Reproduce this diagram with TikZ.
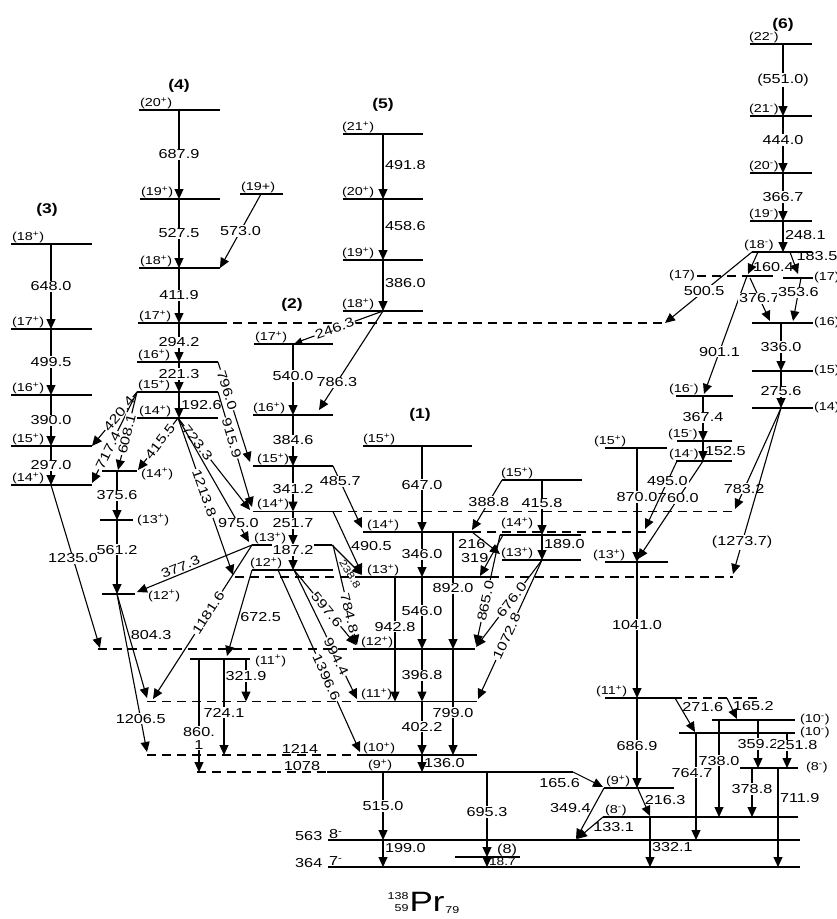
\documentclass[tikz,border=0pt]{standalone}
\usepackage{fontspec}
\setmainfont{Liberation Sans}[FakeStretch=1.25]
\usetikzlibrary{arrows.meta}
\newcommand{\spp}{\textsuperscript{+}}
\newcommand{\spm}{\textsuperscript{-}}
\tikzset{
  lev/.style={line width=1.1pt},
  levdash/.style={line width=1.1pt, dash pattern=on 9pt off 6pt},
  gam/.style={-{Triangle[width=9pt,length=10pt]}, line width=1.1pt},
  gams/.style={-{Triangle[width=6pt,length=7pt]}, line width=1.1pt},
  en/.style={font=\fontsize{13}{13}\selectfont, fill=white, inner sep=1pt},
  enr/.style={font=\fontsize{13}{13}\selectfont, inner sep=1.5pt},
  sp/.style={font=\fontsize{11.5}{11.5}\selectfont, inner sep=1pt, anchor=south west},
  spr/.style={font=\fontsize{11.5}{11.5}\selectfont, inner sep=1pt, anchor=west},
  bandlab/.style={font=\fontsize{14}{14}\selectfont\bfseries}
}
\begin{document}
\begin{tikzpicture}[x=1pt,y=-1pt]
\useasboundingbox (0,0) rectangle (837,919);

% band (3)
\node[bandlab] (b3) at (47,210) {(3)};
\draw[lev] (11,244) -- (92,244);
\draw[lev] (11,329) -- (92,329);
\draw[lev] (11,395) -- (92,395);
\draw[lev] (11,446) -- (92,446);
\draw[lev] (11,485) -- (92,485);
\node[sp] (s3a) at (11,244) {(18\spp)};
\node[sp] (s3b) at (11,329) {(17\spp)};
\node[sp] (s3c) at (11,395) {(16\spp)};
\node[sp] (s3d) at (11,446) {(15\spp)};
\node[sp] (s3e) at (11,485) {(14\spp)};
\draw[gam] (51,244) -- node[en] (g6480) {648.0} (51,329);
\draw[gam] (51,329) -- node[en] (g4995) {499.5} (51,395);
\draw[gam] (51,395) -- node[en] (g3900) {390.0} (51,446);
\draw[gam] (51,446) -- node[en] (g2970) {297.0} (51,485);
\draw[gam] (51,485) -- node[en, pos=.45] (g12350) {1235.0} (100,648);

% band (4)
\node[bandlab] (b4) at (179,86) {(4)};
\draw[lev] (139,110) -- (220,110);
\draw[lev] (140,199) -- (220,199);
\draw[lev] (139,268) -- (220,268);
\draw[lev] (138,323) -- (218,323);
\draw[levdash] (218,323) -- (662,323);
\draw[lev] (137,362) -- (218,362);
\draw[lev] (137,392) -- (218,392);
\draw[lev] (137,418) -- (218,418);
\draw[lev] (240,194) -- (283,194);
\node[sp] (s4a) at (139,110) {(20\spp)};
\node[sp] (s4b) at (140,199) {(19\spp)};
\node[sp] (s4c) at (139,268) {(18\spp)};
\node[sp] (s4d) at (138,323) {(17\spp)};
\node[sp] (s4e) at (137,362) {(16\spp)};
\node[sp] (s4f) at (137,392) {(15\spp)};
\node[sp] (s4g) at (138,418) {(14\spp)};
\node[sp] (s4h) at (240,194) {(19+)};
\draw[gam] (179,110) -- node[en] (g6879) {687.9} (179,199);
\draw[gam] (179,199) -- node[en] (g5275) {527.5} (179,268);
\draw[gam] (261,194) -- node[en] (g5730) {573.0} (220,268);
\draw[gam] (179,268) -- node[en] (g4119) {411.9} (179,323);
\draw[gam] (179,323) -- node[en] (g2942) {294.2} (179,362);
\draw[gam] (179,362) -- node[en, pos=.4] (g2213) {221.3} (179,392);
\draw[gam] (179,392) -- node[enr, right] (g1926) {192.6} (179,418);
\draw[gam] (218,362) -- node[en, sloped, pos=.28] (g7960) {796.0} (250,462);
\draw[gam] (218,392) -- node[en, sloped, pos=.4] (g9159) {915.9} (252,507);
\draw[gam] (137,392) -- node[en, sloped, pos=.4] (g4204) {420.4} (92,446);
\draw[gam] (137,392) -- node[en, sloped, pos=.64] (g7174) {717.4} (92,483);
\draw[gam] (137,392) -- node[en, sloped, pos=.54] (g6081) {608.1} (118,470);
\draw[gam] (178,418) -- node[en, sloped, pos=.45] (g4155) {415.5} (138,470);
\draw[gam] (178,418) -- node[en, sloped, pos=.27] (g7233) {723.3} (250,510);
\draw[gam] (178,418) -- node[en, pos=.85] (g9750) {975.0} (249,542);
\draw[gam] (178,418) -- node[en, sloped, pos=.48] (g12138) {1213.8} (233,575);

% side band under (4)
\draw[lev] (102,471) -- (137,471);
\draw[lev] (100,520) -- (133,520);
\draw[lev] (102,594) -- (135,594);
\node[spr] (s7a) at (140,474) {(14\spp)};
\node[spr] (s7b) at (136,520) {(13\spp)};
\node[spr] (s7c) at (147,596) {(12\spp)};
\draw[gam] (117,471) -- node[en] (g3756) {375.6} (117,520);
\draw[gam] (117,520) -- node[en, pos=.4] (g5612) {561.2} (117,594);
\draw[gam] (117,594) -- node[enr, right, pos=.39] (g8043) {804.3} (147,698);
\draw[gam] (117,594) -- node[en, pos=.79] (g12065) {1206.5} (147,752);

% band (5)
\node[bandlab] (b5) at (383,105) {(5)};
\draw[lev] (343,134) -- (423,134);
\draw[lev] (343,199) -- (423,199);
\draw[lev] (343,260) -- (423,260);
\draw[lev] (343,311) -- (423,311);
\node[sp] (s5a) at (341,134) {(21\spp)};
\node[sp] (s5b) at (341,199) {(20\spp)};
\node[sp] (s5c) at (341,260) {(19\spp)};
\node[sp] (s5d) at (341,311) {(18\spp)};
\draw[gam] (383,134) -- node[enr, right, pos=.48] (g4918) {491.8} (383,199);
\draw[gam] (383,199) -- node[enr, right, pos=.45] (g4586) {458.6} (383,260);
\draw[gam] (383,260) -- node[enr, right, pos=.45] (g3860) {386.0} (383,311);
\draw[gams] (383,311) -- node[en, sloped, pos=.55] (g2463) {246.3} (295,343);
\draw[gam] (383,311) -- node[en, pos=.72] (g7863) {786.3} (319,410);

% band (2)
\node[bandlab] (b2) at (292,305) {(2)};
\draw[lev] (254,344) -- (333,344);
\draw[lev] (253,415) -- (333,415);
\draw[lev] (253,466) -- (333,466);
\draw[lev] (253,511.5) -- (333,511.5);
\draw[levdash] (333,511.5) -- (737,511.5);
\draw[lev] (252,545) -- (332,545);
\draw[lev] (252,570) -- (333,570);
\node[sp] (s2a) at (254,344) {(17\spp)};
\node[sp] (s2b) at (252,415) {(16\spp)};
\node[sp] (s2c) at (256,466) {(15\spp)};
\node[sp] (s2d) at (256,511.5) {(14\spp)};
\node[sp] (s2e) at (253,545) {(13\spp)};
\node[sp] (s2f) at (249,570) {(12\spp)};
\draw[gam] (293,344) -- node[en, pos=.45] (g5400) {540.0} (293,415);
\draw[gam] (293,415) -- node[en] (g3846) {384.6} (293,466);
\draw[gam] (293,466) -- node[en] (g3412) {341.2} (293,511.5);
\draw[gam] (293,511.5) -- node[en, pos=.35] (g2517) {251.7} (293,545);
\draw[gam] (293,545) -- node[en, pos=.2] (g1872) {187.2} (293,570);
\draw[gam] (333,466) -- node[en, pos=.25] (g4857) {485.7} (362,528);
\draw[gam] (333,511.5) -- node[enr, right, pos=.55] (g4905) {490.5} (362,574);
\draw[gam] (332,545) -- (362,575);
\node[font=\fontsize{10}{10}\selectfont, rotate=-58, inner sep=0.5pt] (g2388) at (350,574) {238.8};
\draw[gam] (333,545) -- node[en, sloped, pos=.68] (g7848) {784.8} (357,645);
\draw[gam] (294,570) -- node[en, sloped, pos=.53] (g5976) {597.6} (356,645);
\draw[gam] (294,570) -- node[en, sloped, pos=.67] (g9944) {994.4} (357,699);
\draw[gam] (278,570) -- node[en, sloped, pos=.59] (g13966) {1396.6} (360,752);
\draw[gam] (252,570) -- node[enr, right, pos=.55] (g6725) {672.5} (227,656);
\draw[gam] (252,545) -- node[enr, sloped, above, pos=.6] (g3773) {377.3} (137,592);
\draw[gam] (252,545) -- node[en, sloped, pos=.44] (g11816) {1181.6} (153,699);

% (11+) level between (2) and (1)
\draw[lev] (190,659) -- (250,659);
\node[spr] (s8a) at (254,661) {(11\spp)};
\draw[gam] (246,659) -- node[en, pos=.4] (g3219) {321.9} (246,701.5);
\draw[gam] (224,659) -- node[en, pos=.56] (g7241) {724.1} (224,755);
\draw[gam] (199,659) -- node[en, pos=.7, align=center] (g8601) {860.\\1} (199,772);

% band (1)
\node[bandlab] (b1) at (420,415) {(1)};
\draw[lev] (363,446) -- (472,446);
\draw[lev] (363,532) -- (472,532);
\draw[levdash] (472,532) -- (648,532);
\draw[levdash] (235,577) -- (363,577);
\draw[lev] (363,577) -- (490,577);
\draw[levdash] (490,577) -- (733,577);
\draw[levdash] (98,649) -- (356,649);
\draw[lev] (356,649) -- (475,649);
\draw[levdash] (147,701.5) -- (362,701.5);
\draw[lev] (362,701.5) -- (477,701.5);
\draw[levdash] (147,755) -- (362,755);
\draw[lev] (362,755) -- (477,755);
\draw[levdash] (197,772) -- (327,772);
\draw[lev] (327,772) -- (573,772);
\node[sp] (s1a) at (362,446) {(15\spp)};
\node[sp] (s1b) at (366,532) {(14\spp)};
\node[sp] (s1c) at (366,577) {(13\spp)};
\node[sp] (s1d) at (360,649) {(12\spp)};
\node[sp] (s1e) at (360,701.5) {(11\spp)};
\node[sp] (s1f) at (362,755) {(10\spp)};
\node[sp] (s1g) at (367,772) {(9\spp)};
\node[enr, anchor=south] (e1214) at (300,755) {1214};
\node[enr, anchor=south] (e1078) at (302,772) {1078};
\draw[gam] (422,446) -- node[en, pos=.45] (g6470) {647.0} (422,532);
\draw[gam] (422,532) -- node[en] (g3460) {346.0} (422,577);
\draw[gam] (422,577) -- node[en, pos=.47] (g5460) {546.0} (422,649);
\draw[gam] (422,649) -- node[en] (g3968) {396.8} (422,701.5);
\draw[gam] (422,701.5) -- node[en, pos=.47] (g4022) {402.2} (422,755);
\draw[gam] (422,755) -- node[enr, right] (g1360) {136.0} (422,772);
\draw[gam] (395,577) -- node[en, pos=.4] (g9428) {942.8} (395,701.5);
\draw[gam] (453,532) -- node[en, pos=.48] (g8920) {892.0} (453,649);
\draw[gam] (453,649) -- node[en, pos=.6] (g7990) {799.0} (453,755);

% band right of (1)
\draw[lev] (502,480) -- (582,480);
\draw[lev] (500,535) -- (581,535);
\draw[lev] (502,560) -- (581,560);
\node[sp] (s9a) at (500,480) {(15\spp)};
\node[sp] (s9b) at (500,530) {(14\spp)};
\node[sp] (s9c) at (500,560) {(13\spp)};
\draw[gam] (502,480) -- node[en, pos=.44] (g3888) {388.8} (472,530);
\draw[gam] (542,480) -- node[en, pos=.42] (g4158) {415.8} (542,535);
\draw[gam] (542,535) -- node[enr, right, pos=.35] (g1890) {189.0} (542,560);
\draw[gam] (472,532) -- node[enr, left, pos=.55] (g2160) {216} (500,554);
\draw[gam] (503,535) -- node[enr, left, pos=.55] (g3190) {319} (480,576);
\draw[gam] (500,535) -- node[en, sloped, pos=.6] (g8650) {865.0} (476,645);
\draw[gam] (542,560) -- node[en, sloped, pos=.46] (g6760) {676.0} (476,647);
\draw[gam] (542,560) -- node[en, sloped, pos=.55] (g10728) {1072.8} (478,699);

% low-lying levels
\draw[lev] (328,840) -- (800,840);
\draw[lev] (328,867) -- (800,867);
\draw[lev] (455,857) -- (520,857);
\node[enr, anchor=east] (e563) at (324,836) {563};
\node[enr, anchor=east] (e364) at (324,863) {364};
\node[sp, font=\fontsize{13}{13}\selectfont] (s0a) at (328,840) {8\spm};
\node[sp, font=\fontsize{13}{13}\selectfont] (s0b) at (328,867) {7\spm};
\node[sp, font=\fontsize{13}{13}\selectfont] (s0c) at (496,857) {(8)};
\draw[gam] (383,772) -- node[en] (g5150) {515.0} (383,840);
\draw[gam] (383,840) -- node[enr, right, pos=.3] (g1990) {199.0} (383,867);
\draw[gam] (487,772) -- node[en, pos=.47] (g6953) {695.3} (487,857);
\draw[gam] (487,857) -- node[enr, right, font=\fontsize{11}{11}\selectfont, pos=.5] (g187) {18.7} (487,867);

% band under (13+) at right
\draw[lev] (605,448) -- (667,448);
\draw[lev] (605,562) -- (668,562);
\draw[lev] (605,698) -- (673,698);
\draw[levdash] (673,698) -- (762,698);
\draw[lev] (604,788) -- (674,788);
\draw[lev] (603,817) -- (798,817);
\node[sp] (sca) at (593,448) {(15\spp)};
\node[sp] (scb) at (592,562) {(13\spp)};
\node[sp] (scc) at (595,698) {(11\spp)};
\node[sp] (scd) at (605,788) {(9\spp)};
\node[sp] (sce) at (604,817) {(8\spm)};
\draw[gam] (637,448) -- node[en, pos=.43] (g8700) {870.0} (637,562);
\draw[gam] (637,562) -- node[en, pos=.46] (g10410) {1041.0} (637,698);
\draw[gam] (637,698) -- node[en, pos=.53] (g6869) {686.9} (637,788);
\draw[gam] (573,772) -- node[enr, anchor=north east, pos=.3] (g1656) {165.6} (603,787);
\draw[gam] (604,788) -- node[enr, left, pos=.4] (g3494) {349.4} (576,839);
\draw[gam] (638,789) -- node[enr, right, pos=.4] (g2163) {216.3} (650,816);
\draw[gam] (650,817) -- node[enr, right, pos=.6] (g3321) {332.1} (650,867);
\draw[gam] (603,817) -- node[enr, anchor=west, pos=.45] (g1331) {133.1} (577,839);

% negative parity levels at bottom right
\draw[lev] (740,768) -- (798,768);
\draw[lev] (712,720) -- (795,720);
\draw[lev] (679,733) -- (795,733);
\node[spr] (sra) at (805,768) {(8\spm)};
\node[spr] (srb) at (799,720) {(10\spm)};
\node[spr] (src) at (799,733) {(10\spm)};
\draw[gam] (675,698) -- node[enr, right, pos=.27] (g2716) {271.6} (695,732);
\draw[gam] (727,698) -- node[enr, right, pos=.4] (g1652) {165.2} (737,719);
\draw[gam] (758,720) -- node[en] (g3592) {359.2} (758,768);
\draw[gam] (787,733) -- node[en, pos=.35, xshift=10pt] (g2518) {251.8} (787,768);
\draw[gam] (719,720) -- node[en, pos=.42] (g7380) {738.0} (719,817);
\draw[gam] (696,733) -- node[en, pos=.37, xshift=-4pt] (g7647) {764.7} (696,840);
\draw[gam] (752,768) -- node[en, pos=.43] (g3788) {378.8} (752,817);
\draw[gam] (778,768) -- node[enr, right, pos=.3] (g7119) {711.9} (778,867);

% band (6)
\node[bandlab] (b6) at (783,25) {(6)};
\draw[lev] (750,44) -- (812,44);
\draw[lev] (750,116) -- (812,116);
\draw[lev] (750,173) -- (812,173);
\draw[lev] (750,221) -- (812,221);
\draw[lev] (752,252) -- (812,252);
\draw[levdash] (697,276) -- (747,276);
\draw[lev] (747,276) -- (773,276);
\draw[lev] (783,278) -- (813,278);
\draw[lev] (752,323) -- (813,323);
\draw[lev] (752,371) -- (813,371);
\draw[lev] (752,408) -- (813,408);
\draw[lev] (676,396) -- (733,396);
\draw[lev] (677,441) -- (732,441);
\draw[lev] (676,461) -- (732,461);
\node[sp] (s6a) at (748,44) {(22\spm)};
\node[sp] (s6b) at (748,116) {(21\spm)};
\node[sp] (s6c) at (748,173) {(20\spm)};
\node[sp] (s6d) at (748,221) {(19\spm)};
\node[sp] (s6e) at (743,252) {(18\spm)};
\node[sp, anchor=east] (s6f) at (696,276) {(17)};
\node[spr] (s6g) at (813,278) {(17)};
\node[spr] (s6h) at (813,323) {(16)};
\node[spr] (s6i) at (813,371) {(15)};
\node[spr] (s6j) at (813,408) {(14)};
\node[sp] (s6k) at (668,396) {(16\spm)};
\node[sp] (s6l) at (667,441) {(15\spm)};
\node[sp] (s6m) at (668,461) {(14\spm)};
\draw[gam] (783,44) -- node[en] (g5510) {(551.0)} (783,116);
\draw[gam] (783,116) -- node[en, pos=.42] (g4440) {444.0} (783,173);
\draw[gam] (783,173) -- node[en] (g3667) {366.7} (783,221);
\draw[gam] (783,221) -- node[enr, right, pos=.45] (g2481) {248.1} (783,252);
\draw[gam] (758,252) -- node[enr, right, pos=.7] (g1604) {160.4} (748,274);
\draw[gam] (790,252) -- node[enr, right, pos=.2, xshift=3pt] (g1835) {183.5} (798,274);
\draw[gam] (752,252) -- node[en, pos=.55] (g5005) {500.5} (665,323);
\draw[gam] (747,276) -- node[en, pos=.64] (g9011) {901.1} (704,394);
\draw[gam] (750,278) -- node[en, pos=.47] (g3767) {376.7} (770,321);
\draw[gam] (801,278) -- node[en, pos=.33] (g3536) {353.6} (793,321);
\draw[gam] (781,323) -- node[en] (g3360) {336.0} (781,371);
\draw[gam] (781,371) -- node[en, pos=.55] (g2756) {275.6} (781,408);
\draw[gam] (703,396) -- node[en, pos=.47] (g3674) {367.4} (703,441);
\draw[gam] (703,441) -- node[enr, right] (g1525) {152.5} (703,461);
\draw[gam] (703,461) -- node[en, pos=.38] (g7600) {760.0} (638,559);
\draw[gam] (677,461) -- node[en, pos=.3] (g4950) {495.0} (645,529);
\draw[gam] (781,408) -- node[en, pos=.8] (g7832) {783.2} (735,509);
\draw[gam] (781,408) -- node[en, pos=.81] (g12737) {(1273.7)} (733,574);

% nucleus
\node[font=\fontsize{28}{28}\selectfont, inner sep=0pt] (pr) at (427,902) {Pr};
\node[font=\fontsize{10}{10}\selectfont, inner sep=0.5pt, anchor=north east] (amass) at (pr.north west) {138};
\node[font=\fontsize{10}{10}\selectfont, inner sep=0.5pt, anchor=south east] (zprot) at (pr.south west) {59};
\node[font=\fontsize{10}{10}\selectfont, inner sep=0.5pt, anchor=south west, yshift=-2pt] (nneu) at (pr.south east) {79};
\end{tikzpicture}
\end{document}
